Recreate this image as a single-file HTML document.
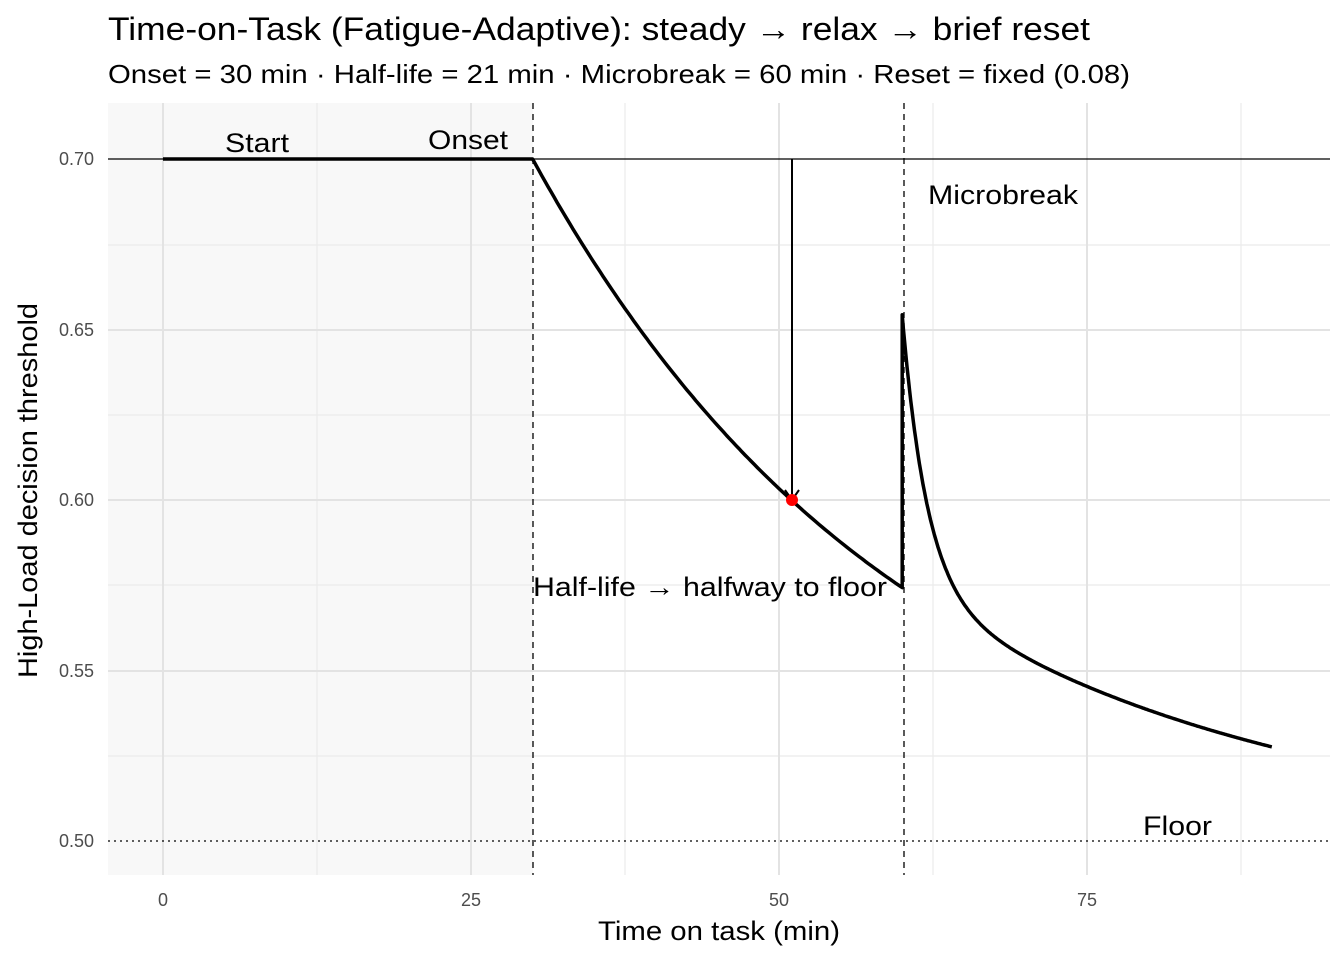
<!DOCTYPE html>
<html><head><meta charset="utf-8"><style>
body{margin:0;background:#fff}
svg text{font-family:"Liberation Sans",Arial,sans-serif}
</style></head><body>
<svg id="s" width="1344" height="960" xmlns="http://www.w3.org/2000/svg">
<rect x="108" y="103" width="425" height="772" fill="#f8f8f8"/>
<g stroke="#ebebeb" stroke-width="1.2">
<line x1="317" y1="103" x2="317" y2="875"/><line x1="625" y1="103" x2="625" y2="875"/><line x1="933" y1="103" x2="933" y2="875"/><line x1="1241" y1="103" x2="1241" y2="875"/>
<line x1="108" y1="245" x2="1330" y2="245"/><line x1="108" y1="415" x2="1330" y2="415"/><line x1="108" y1="585" x2="1330" y2="585"/><line x1="108" y1="756" x2="1330" y2="756"/>
</g>
<g stroke="#e3e3e3" stroke-width="2">
<line x1="163" y1="103" x2="163" y2="875"/><line x1="471" y1="103" x2="471" y2="875"/><line x1="779" y1="103" x2="779" y2="875"/><line x1="1087" y1="103" x2="1087" y2="875"/>
<line x1="108" y1="330" x2="1330" y2="330"/><line x1="108" y1="500" x2="1330" y2="500"/><line x1="108" y1="671" x2="1330" y2="671"/>
</g>
<line x1="108" y1="159" x2="1330" y2="159" stroke="#000" stroke-width="1.3"/>
<line x1="108" y1="841" x2="1330" y2="841" stroke="#000" stroke-width="1.3" stroke-dasharray="2,4"/>
<line x1="533" y1="103" x2="533" y2="875" stroke="#000" stroke-width="1.3" stroke-dasharray="6,5"/>
<line x1="904" y1="103" x2="904" y2="875" stroke="#000" stroke-width="1.3" stroke-dasharray="6,5"/>
<path id="curve" fill="none" stroke="#000" stroke-width="3.5" stroke-linejoin="round"/>
<line x1="792" y1="159" x2="792" y2="498" stroke="#000" stroke-width="2"/>
<polyline points="785,490 792,500 799,490" fill="none" stroke="#000" stroke-width="2"/>
<circle cx="792" cy="500" r="6" fill="#ff0000"/>
<g font-size="27" fill="#000" lengthAdjust="spacingAndGlyphs">
<text x="225" y="152" textLength="64" lengthAdjust="spacingAndGlyphs">Start</text>
<text x="428" y="149" textLength="80" lengthAdjust="spacingAndGlyphs">Onset</text>
<text x="928" y="204" textLength="150" lengthAdjust="spacingAndGlyphs">Microbreak</text>
<text x="533" y="596" textLength="354" lengthAdjust="spacingAndGlyphs">Half-life → halfway to floor</text>
<text x="1143" y="835" textLength="69" lengthAdjust="spacingAndGlyphs">Floor</text>
</g>
<g font-size="18" fill="#4d4d4d">
<text x="94" y="165" text-anchor="end">0.70</text><text x="94" y="336" text-anchor="end">0.65</text><text x="94" y="506" text-anchor="end">0.60</text><text x="94" y="677" text-anchor="end">0.55</text><text x="94" y="847" text-anchor="end">0.50</text>
<text x="163" y="906" text-anchor="middle">0</text><text x="471" y="906" text-anchor="middle">25</text><text x="779" y="906" text-anchor="middle">50</text><text x="1087" y="906" text-anchor="middle">75</text>
</g>
<text x="598" y="940" font-size="27" textLength="242" lengthAdjust="spacingAndGlyphs">Time on task (min)</text>
<text transform="translate(37,678) rotate(-90)" font-size="27" textLength="375" lengthAdjust="spacingAndGlyphs">High-Load decision threshold</text>
<text x="108" y="40" font-size="32" textLength="982" lengthAdjust="spacingAndGlyphs">Time-on-Task (Fatigue-Adaptive): steady → relax → brief reset</text>
<text x="108" y="83" font-size="26" textLength="1022" lengthAdjust="spacingAndGlyphs">Onset = 30 min · Half-life = 21 min · Microbreak = 60 min · Reset = fixed (0.08)</text>
</svg>
<script>
function X(t){return 163+t*12.32}
function Y(v){return 159+(0.70-v)*3410}
var d="M"+X(0)+","+Y(0.7)+" L"+X(30)+","+Y(0.7);
for(var t=30;t<=60.001;t+=0.25){var v=0.5+0.2*Math.pow(2,-(t-30)/21);d+=" L"+X(t).toFixed(1)+","+Y(v).toFixed(1);}
for(var t=60;t<=90.001;t+=0.1){var v=0.5+0.2*Math.pow(2,-(t-30)/21)+0.08*Math.exp(-(t-60)/2);d+=" L"+X(t).toFixed(1)+","+Y(v).toFixed(1);}
document.getElementById("curve").setAttribute("d",d);
</script>
</body></html>
